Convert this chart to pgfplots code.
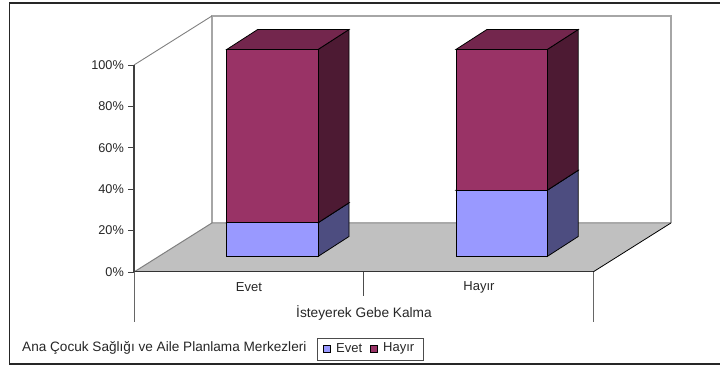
\documentclass[border=0pt]{standalone}
\usepackage{pgfplots}
\pgfplotsset{compat=1.18}
\usepackage{fontspec}
\setmainfont{Liberation Sans}
\definecolor{evetfront}{HTML}{9999FF}
\definecolor{evetside}{HTML}{4D4D80}
\definecolor{hayirfront}{HTML}{993366}
\definecolor{hayirtop}{HTML}{73264D}
\definecolor{hayirside}{HTML}{4D1A33}
\definecolor{floorgrey}{HTML}{C0C0C0}
\definecolor{wallline}{HTML}{A6A6A6}
% Scene scale: horizontal units are points, vertical units are percent (2.07 pt each).
\newcommand{\barbase}{7.49}
\newcommand{\depthx}{31}
\newcommand{\depthy}{9.66}
\newcommand{\barwidth}{91.3}
% One stacked segment as a box: left edge, lower and upper percent, then three face colours.
\newcommand{\segment}[6]{%
  \pgfmathsetmacro{\xa}{#1}
  \pgfmathsetmacro{\xb}{#1+\barwidth}
  \pgfmathsetmacro{\xc}{\xb+\depthx}
  \pgfmathsetmacro{\xd}{\xa+\depthx}
  \pgfmathsetmacro{\ya}{#2+\barbase}
  \pgfmathsetmacro{\yb}{#3+\barbase}
  \pgfmathsetmacro{\yc}{\ya+\depthy}
  \pgfmathsetmacro{\yd}{\yb+\depthy}
  \addplot[draw=black,line width=0.8pt,fill=#6] coordinates {(\xb,\ya) (\xc,\yc) (\xc,\yd) (\xb,\yb)} -- cycle;
  \addplot[draw=black,line width=0.8pt,fill=#5] coordinates {(\xa,\yb) (\xb,\yb) (\xc,\yd) (\xd,\yd)} -- cycle;
  \addplot[draw=black,line width=0.8pt,fill=#4] coordinates {(\xa,\ya) (\xb,\ya) (\xb,\yb) (\xa,\yb)} -- cycle;
}
\begin{document}
\begin{tikzpicture}[every node/.style={font=\fontsize{13}{15}\selectfont,text=black!85}]
\path[use as bounding box] (0pt,0pt) rectangle (720pt,365pt);
\begin{axis}[
  at={(0pt,0pt)},anchor=south west,
  width=720pt,height=365pt,scale only axis,
  xmin=0,xmax=720,ymin=-44.93,ymax=131.4,
  hide axis,clip=false,
]
% outer frame, open on the right
\addplot[draw=black!85,line width=1.8pt] coordinates {(720,129.9) (9.5,129.9) (9.5,-44.5) (720,-44.5)};
% walls and floor
\addplot[draw=none,fill=floorgrey] coordinates {(134,0) (212,23.7) (671,23.7) (593,0)} -- cycle;
\addplot[draw=wallline,line width=1.2pt] coordinates {(212,23.7) (212,123.7) (671,123.7) (671,23.7)};
\addplot[draw=gray,line width=0.9pt] coordinates {(134,100) (212,123.7)};
\addplot[draw=gray,line width=1pt] coordinates {(134,0) (212,23.7) (671,23.7)};
\addplot[draw=black,line width=0.8pt] coordinates {(671,23.7) (593,0)};
% category rulers under the floor
\addplot[draw=black!80,line width=1pt] coordinates {(134,0) (593,0)};
\addplot[draw=black!70,line width=1pt] coordinates {(363,0) (363,-11.6)};
\addplot[draw=black!60,line width=1pt] coordinates {(593,0) (593,-24.2)};
\addplot[draw=black!60,line width=1pt] coordinates {(134,0) (134,-24.2)};
% stacked boxes
\segment{226.7}{0}{16.3}{evetfront}{evetfront}{evetside}
\segment{226.7}{16.3}{100}{hayirfront}{hayirtop}{hayirside}
\segment{455.9}{0}{32}{evetfront}{evetfront}{evetside}
\segment{455.9}{32}{100}{hayirfront}{hayirtop}{hayirside}
% category and field labels
\node at (axis cs:249,-7.2) {Evet};
\node at (axis cs:479,-7.2) {Hayır};
\node[font=\fontsize{13.7}{15}\selectfont] at (axis cs:364,-19.7) {İsteyerek Gebe Kalma};
\node[font=\fontsize{13.6}{15}\selectfont,anchor=west,inner sep=0pt] at (axis cs:22,-36.7) {Ana Çocuk Sağlığı ve Aile Planlama Merkezleri};
% legend box
\addplot[draw=black!70,line width=0.8pt] coordinates {(317,-31.9) (423,-31.9) (423,-42.9) (317,-42.9)} -- cycle;
\addplot[draw=black,line width=0.7pt,fill=evetfront] coordinates {(323,-35.2) (330,-35.2) (330,-38.6) (323,-38.6)} -- cycle;
\addplot[draw=black,line width=0.7pt,fill=hayirfront] coordinates {(370,-35.2) (377,-35.2) (377,-38.6) (370,-38.6)} -- cycle;
\node[anchor=west,inner sep=0pt] at (axis cs:336,-36.7) {Evet};
\node[anchor=west,inner sep=0pt] at (axis cs:383,-36.7) {Hayır};
\end{axis}
% percent scale
\begin{axis}[
  at={(134pt,93pt)},anchor=south west,
  width=20pt,height=207pt,scale only axis,
  xmin=0,xmax=1,ymin=0,ymax=100,
  axis y line*=left,axis x line=none,
  axis line style={draw=black!75,line width=1.1pt,-},
  ytick={0,20,40,60,80,100},
  yticklabels={0\%,20\%,40\%,60\%,80\%,100\%},
  tick style={draw=black!75,line width=1pt},
  tick align=outside,
  major tick length=6pt,
  yticklabel style={font=\fontsize{12.7}{15}\selectfont,text=black!85,inner sep=0pt,xshift=-4pt},
]
\addplot[draw=none] coordinates {(0,0) (1,100)};
\end{axis}
\end{tikzpicture}
\end{document}
